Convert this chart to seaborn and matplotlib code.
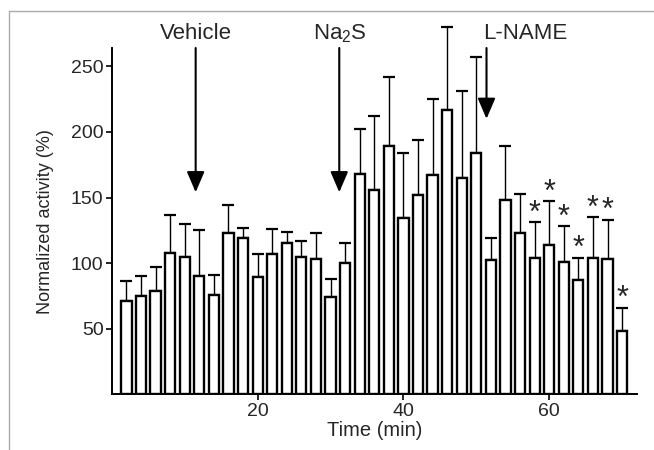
import numpy as np
import pandas as pd
import seaborn as sns
import matplotlib.pyplot as plt
from matplotlib.lines import Line2D

# Normalized activity over time, mean and upper error
time = [2, 4, 6, 8, 10, 12, 14, 16, 18, 20, 22, 24, 26, 28, 30, 32, 34, 36,
        38, 40, 42, 44, 46, 48, 50, 52, 54, 56, 58, 60, 62, 64, 66, 68, 70]
activity = [71, 75, 79, 108, 105, 90, 76, 123, 119, 89, 107, 115, 105, 103, 74, 100, 168, 156,
            189, 134, 152, 167, 217, 165, 184, 102, 148, 123, 104, 114, 101, 87, 104, 103, 48]
upper = [86, 90, 97, 137, 130, 125, 91, 144, 127, 107, 126, 124, 117, 123, 88, 115, 202, 212,
         242, 184, 194, 225, 280, 231, 257, 119, 189, 153, 131, 147, 128, 104, 135, 133, 66]
star = [0] * 28 + [1, 1, 1, 1, 1, 1, 1]

# treatments: label, arrow x, arrow tip y, label x
treatments = ['Vehicle', 'Na$_2$S', 'L-NAME']
arrow_x = [11.5, 31.2, 51.4]
arrow_tip = [154, 154, 210]
label_x = [11.6, 31.3, 56.7]

df = pd.DataFrame({'time': time, 'activity': activity})
err = np.array(upper) - np.array(activity)

sns.set_style('ticks')
plt.rcParams['font.family'] = ['Liberation Sans', 'DejaVu Sans']
plt.rcParams['mathtext.fontset'] = 'custom'
plt.rcParams['mathtext.rm'] = 'Liberation Sans'
plt.rcParams['mathtext.it'] = 'Liberation Sans'

fig = plt.figure(figsize=(6.54, 4.5), dpi=100)
ax = fig.add_axes([0.171, 0.124, 0.8025, 0.7693])

eb = ax.errorbar(time, activity, yerr=[np.zeros(len(err)), err], fmt='none',
                 ecolor='black', elinewidth=1, capsize=4, capthick=1.6, zorder=1)
for art in eb.lines[1] + eb.lines[2]:
    art.set_clip_on(False)

sns.barplot(data=df, x='time', y='activity', native_scale=True, width=0.7,
            color='white', edgecolor='black', linewidth=1.7, errorbar=None,
            ax=ax, zorder=2)
for p in ax.patches:
    p.set_facecolor('white')
    p.set_zorder(2)

ax.set_xlim(0, 72)
ax.set_ylim(0, 264)
ax.set_xticks([20, 40, 60])
ax.set_yticks([50, 100, 150, 200, 250])
ax.tick_params(labelsize=14, length=4, width=1.2, color='black', pad=2)
ax.set_xlabel('Time (min)', fontsize=14.5, labelpad=1)
ax.set_ylabel('Normalized activity (%)', fontsize=13, labelpad=12)
for s in ['left', 'bottom']:
    ax.spines[s].set_linewidth(1.4)
    ax.spines[s].set_color('black')
sns.despine(ax=ax)

# significance stars
for t, u, s in zip(time, upper, star):
    if s:
        ax.text(t, u + 6.5, '*', ha='center', va='center', fontsize=22)

# treatment arrows and labels
for lab, x, tip, lx in zip(treatments, arrow_x, arrow_tip, label_x):
    ax.annotate('', xy=(x, tip), xytext=(x, 264),
                arrowprops=dict(arrowstyle='-|>,head_length=0.7,head_width=0.3',
                                mutation_scale=18, lw=1.5, color='black',
                                shrinkA=0, shrinkB=0),
                annotation_clip=False)
    ax.text(lx, 275, lab, ha='center', va='center', fontsize=16, clip_on=False)

# thin grey frame on top and left, as in the source image
fig.add_artist(Line2D([0.0138, 1], [0.9756, 0.9756], transform=fig.transFigure,
                      color='#aaaaaa', lw=1))
fig.add_artist(Line2D([0.0138, 0.0138], [0, 0.9756], transform=fig.transFigure,
                      color='#aaaaaa', lw=1))

fig.savefig('out.png', dpi=100)
